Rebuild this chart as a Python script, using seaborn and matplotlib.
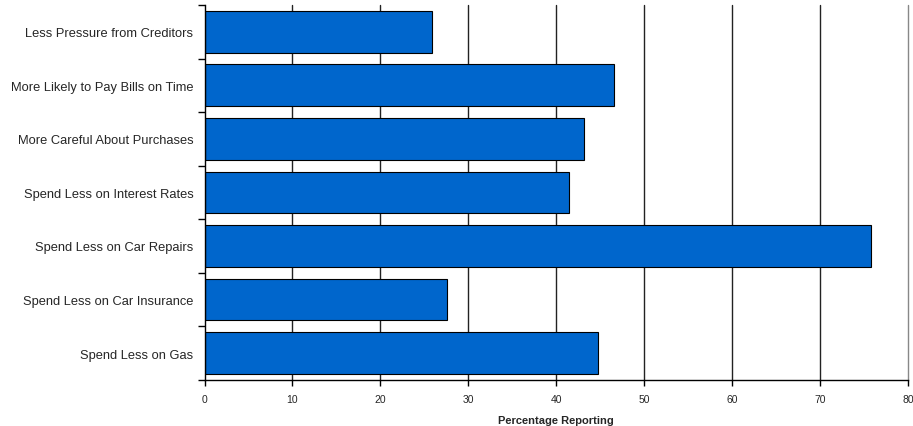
import numpy as np
import pandas as pd
import matplotlib
matplotlib.use("Agg")
import matplotlib.pyplot as plt
import seaborn as sns

# data, top to bottom
categories = [
    "Less Pressure from Creditors",
    "More Likely to Pay Bills on Time",
    "More Careful About Purchases",
    "Spend Less on Interest Rates",
    "Spend Less on Car Repairs",
    "Spend Less on Car Insurance",
    "Spend Less on Gas",
]
percentages = [25.9, 46.6, 43.1, 41.4, 75.8, 27.6, 44.7]
x_ticks = [0, 10, 20, 30, 40, 50, 60, 70, 80]

df = pd.DataFrame({"category": categories, "percentage": percentages})

sns.set_style("white")
plt.rcParams["font.family"] = ["Liberation Sans", "DejaVu Sans"]

fig = plt.figure(figsize=(9.13, 4.27), dpi=100)
ax = fig.add_axes([0.224, 0.108, 0.7705, 0.878])

# vertical grid first so bars sit on top
for xv in x_ticks[1:]:
    col = "#888888" if xv == x_ticks[-1] else "#222222"
    ax.axvline(xv, color=col, linewidth=1.0, zorder=0, clip_on=False)

sns.barplot(
    data=df,
    x="percentage",
    y="category",
    orient="h",
    color="#0066CC",
    edgecolor="black",
    linewidth=0.8,
    width=0.78,
    saturation=1,
    ax=ax,
    zorder=2,
)

ax.set_xlim(0, 80)
ax.set_ylim(len(categories) - 0.5, -0.5)
ax.set_xticks(x_ticks)
ax.set_xticklabels([str(t) for t in x_ticks], fontsize=7.5)
ax.set_ylabel("")
ax.set_xlabel("Percentage Reporting", fontsize=8, fontweight="bold", labelpad=8)

# category ticks sit at the boundaries between bars
ax.set_yticks(np.arange(len(categories)))
ax.set_yticklabels(categories, fontsize=9.3)
ax.set_yticks(np.arange(len(categories) + 1) - 0.5, minor=True)
ax.tick_params(axis="y", which="major", length=0, pad=8)
ax.tick_params(axis="y", which="minor", length=5, width=1, color="black", direction="out", left=True)
ax.tick_params(axis="x", length=4, width=1, color="black", direction="out", bottom=True, pad=6)

for side in ["top", "right"]:
    ax.spines[side].set_visible(False)
for side in ["left", "bottom"]:
    ax.spines[side].set_color("black")
    ax.spines[side].set_linewidth(1.0)

fig.savefig("out.png", dpi=100)
